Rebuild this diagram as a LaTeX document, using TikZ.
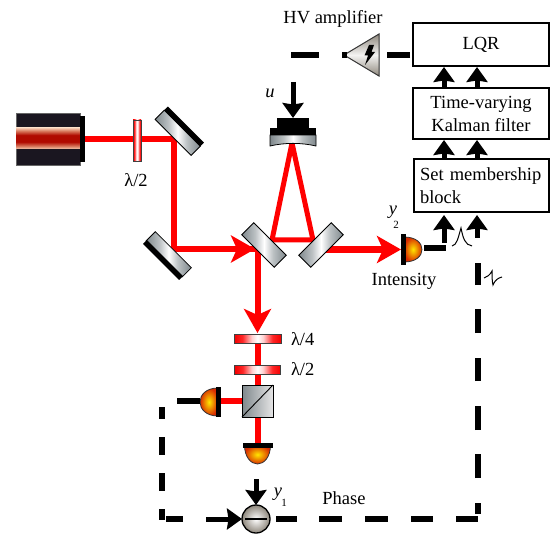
\documentclass[tikz,border=0pt]{standalone}
\usepackage{fontspec}
\setmainfont{Liberation Serif}
\usetikzlibrary{arrows.meta,backgrounds,shapes.geometric}
\definecolor{mirrorgrey}{HTML}{7F888C}
\definecolor{mirrormid}{HTML}{8F989C}
\definecolor{laserbody}{HTML}{1A1620}
\definecolor{ampgrey}{HTML}{8E877C}
\definecolor{bandpink}{HTML}{F4C8B0}
\definecolor{bandrose}{HTML}{D8785C}
\definecolor{banddark}{HTML}{B00A00}
\pgfdeclarehorizontalshading{plateshade}{100bp}{color(0bp)=(red!95!black); color(25bp)=(red!95!black); color(34bp)=(red!85!white); color(44bp)=(red!18!white); color(50bp)=(white); color(56bp)=(red!18!white); color(66bp)=(red!85!white); color(75bp)=(red!95!black); color(100bp)=(red!95!black)}
\pgfdeclareverticalshading{bandshade}{100bp}{color(0bp)=(bandpink); color(25bp)=(bandpink); color(32bp)=(bandrose); color(42bp)=(banddark); color(50bp)=(banddark); color(58bp)=(banddark); color(68bp)=(bandrose); color(75bp)=(bandpink); color(100bp)=(bandpink)}
\pgfdeclarehorizontalshading{glassshade}{100bp}{color(0bp)=(mirrorgrey); color(25bp)=(mirrorgrey); color(40bp)=(mirrormid!60!white); color(50bp)=(white); color(60bp)=(mirrormid!60!white); color(75bp)=(mirrorgrey); color(100bp)=(mirrorgrey)}
\tikzset{
  txt/.style={inner sep=0pt,outer sep=0pt,font=\fontsize{18.5}{23}\selectfont},
  subtxt/.style={inner sep=0pt,outer sep=0pt,font=\fontsize{11}{12}\selectfont},
  ctrlbox/.style={draw=black,line width=1.7pt,fill=white,inner sep=0pt,outer sep=0pt,align=center,txt},
  solidpart/.style={fill=black,inner sep=0pt,outer sep=0pt},
  glass/.style={draw=black,line width=0.8pt,inner sep=0pt,outer sep=0pt,shading=glassshade},
  plate/.style={draw=black!75,line width=0.9pt,inner sep=0pt,outer sep=0pt,shading=plateshade},
  dome/.style={draw=black!80,line width=0.8pt,inner color=yellow!80!orange,outer color=red!60!orange!85!black},
  beam/.style={draw=red,line width=6pt},
  beamarrow/.style={beam,-{Stealth[length=24pt,width=27pt,inset=6pt]}},
  cable/.style={draw=black,line width=6pt},
  sigarrow/.style={draw=black,line width=5pt,-{Stealth[length=15pt,width=21pt,inset=1.5pt]}},
  pulse/.style={draw=black,line width=1pt},
}
\begin{document}
\begin{tikzpicture}[x=1pt,y=-1pt]
\useasboundingbox (0,0) rectangle (553,534);

% control boxes
\node[ctrlbox,minimum width=136pt,minimum height=43pt] (lqr) at (481,44.5) {\raisebox{-2pt}{LQR}};
\node[ctrlbox,minimum width=136pt,minimum height=51pt] (kalman) at (481,113.5) {\raisebox{-2pt}{Time-varying}\\\raisebox{-2pt}{Kalman filter}};
\node[ctrlbox,minimum width=135pt,minimum height=53pt,text width=123pt,align=left] (setblock) at (481.5,185.5) {Set membership\\block};

% laser
\node[draw=black!60,line width=0.5pt,fill=laserbody,inner sep=0pt,outer sep=0pt,minimum width=64pt,minimum height=52pt] (laser) at (48,139) {};
\node[inner sep=0pt,outer sep=0pt,minimum width=64pt,minimum height=21pt,shading=bandshade] (laserband) at (48,138.5) {};
\node[solidpart,minimum width=5pt,minimum height=46pt] (lasercap) at (82.5,139) {};

% first half-wave plate
\node[plate,minimum width=41pt,minimum height=8pt,rotate=90] (plateA) at (137,140.5) {};
\node[txt] (labelA) at (136,180) {λ/2};

% steering mirrors
\node[glass,minimum width=51pt,minimum height=13pt,rotate=-45] (mirrorA) at (177.7,132.8) {};
\node[solidpart,minimum width=51pt,minimum height=5.5pt,rotate=-45] (mirrorAback) at (184.0,126.5) {};
\node[glass,minimum width=51pt,minimum height=13pt,rotate=-45] (mirrorB) at (168.7,254.3) {};
\node[solidpart,minimum width=51pt,minimum height=5.5pt,rotate=-45] (mirrorBback) at (163.0,260.0) {};

% cavity mirrors
\node[glass,minimum width=46pt,minimum height=17pt,rotate=-45] (cavA) at (264,245) {};
\node[glass,minimum width=46pt,minimum height=17pt,rotate=45] (cavB) at (321,245) {};
\path[draw=black,line width=0.8pt,shading=glassshade] (270,135) -- (316,135) -- (316,146) .. controls (301,142.5) and (285,142.5) .. (270,146) -- cycle;
\node[solidpart,minimum width=46pt,minimum height=7pt] (piezoB) at (293,132) {};
\node[solidpart,minimum width=32pt,minimum height=11pt] (piezoA) at (293,123.5) {};
\coordinate (cavTop) at (292,143);
\coordinate (cavL) at (272,240);
\coordinate (cavR) at (313,240);
\coordinate (cavOut) at (321,249.5);

% HV amplifier
\path[draw=black!80,line width=1pt,top color=ampgrey,bottom color=ampgrey,middle color=white!90!ampgrey] (344,55) -- (379,34) -- (379,76) -- cycle;
\fill[black] (369,45) -- (374,45) -- (371.5,52) -- (375,52) -- (365,65) -- (368,55.5) -- (364.5,55.5) -- cycle;
\coordinate (ampOut) at (347,55);
\node[txt] (labelHV) at (333,19) {HV amplifier};

% intensity detector
\path[dome] (404,237) .. controls (416,237) and (422,243) .. (422,249.5) .. controls (422,256) and (416,262) .. (404,262) -- cycle;
\node[solidpart,minimum width=5pt,minimum height=31pt] (detIbar) at (403.5,249.5) {};
\node[txt] (labelI) at (404,281) {Intensity};
\node[txt,font=\fontsize{18.5}{23}\selectfont\itshape] (labelY2) at (393,212) {y};
\node[subtxt] (labelY2s) at (396,225) {2};

% lower optics
\node[plate,minimum width=47pt,minimum height=9pt] (plateB) at (257.5,338.5) {};
\node[txt,anchor=west] (labelB) at (291,339) {λ/4};
\node[plate,minimum width=46pt,minimum height=9pt] (plateC) at (257.5,369.5) {};
\node[txt,anchor=west] (labelC) at (291,369) {λ/2};
\node[draw=black,line width=0.9pt,inner sep=0pt,outer sep=0pt,minimum width=31pt,minimum height=32pt,left color=mirrorgrey,right color=gray!20] (cube) at (257.5,401) {};
\draw[black,line width=0.9pt] (cube.south west) -- (cube.north east);

% split detectors
\path[dome] (218,388) .. controls (206,388) and (200,395) .. (200,402) .. controls (200,409) and (206,416) .. (218,416) -- cycle;
\node[solidpart,minimum width=5pt,minimum height=30pt] (detAbar) at (218.5,402) {};
\path[dome] (244.5,445) .. controls (244.5,457) and (251,464) .. (257.5,464) .. controls (264,464) and (270.5,457) .. (270.5,445) -- cycle;
\node[solidpart,minimum width=30pt,minimum height=5pt] (detBbar) at (257.5,445) {};

% difference junction
\node[circle,draw=black,line width=1.3pt,inner sep=0pt,outer sep=0pt,minimum size=28pt,inner color=white,outer color=ampgrey] (diff) at (256,519) {};
\draw[black,line width=1.2pt] (245,519) -- (267,519);
\node[txt,font=\fontsize{18.5}{23}\selectfont\itshape] (labelY1) at (278,494) {y};
\node[subtxt] (labelY1s) at (284,503) {1};
\node[txt] (labelPhase) at (344,498) {Phase};

% u label
\node[txt,font=\fontsize{18.5}{23}\selectfont\itshape] (labelU) at (270,93) {u};

% connection points
\coordinate (hitA) at (174,139);
\coordinate (hitB) at (174,249);
\coordinate (hitC) at (257.5,249);
\coordinate (loopTop) at (162,407);
\coordinate (loopCorner) at (162,520);
\coordinate (rightCorner) at (478,519);
\coordinate (rightTop) at (478,263);
\coordinate (ampCableEnd) at (291,55);
\coordinate (uStart) at (293,82);
\coordinate (detAout) at (177,401);
\coordinate (detIout) at (446,248);

% optical paths underneath
\begin{pgfonlayer}{background}
\fill[white] (0,0) rectangle (553,534);
\draw[beam] (lasercap.east) -- (hitA) -- (hitB) -- (hitC);
\draw[beamarrow] (hitB) -- (255,249);
\draw[beamarrow] (hitC) -- (257.5,333);
\draw[beam] (plateB.south) -- (plateC.north);
\draw[beam] (plateC.south) -- (cube.north);
\draw[beam] (cube.south) -- (detBbar.north);
\draw[beam] (cube.west) -- (cube.west -| detAbar.east);
\draw[beam,line width=5pt,line join=miter] (cavL) -- (cavTop) -- (cavR) -- cycle;
\draw[beamarrow] (cavOut) -- (cavOut -| detIbar.west);
\end{pgfonlayer}

% signal arrows
\draw[sigarrow] (kalman.north -| 444,0) -- (444,67);
\draw[sigarrow] (kalman.north -| 477,0) -- (477,67);
\draw[sigarrow] (setblock.north -| 444,0) -- (444,140);
\draw[sigarrow] (setblock.north -| 477,0) -- (477,140);
\draw[sigarrow] (444,243) -- (444,215);
\draw[sigarrow] (477,238) -- (477,215);
\draw[sigarrow] (uStart) -- (piezoA.north);
\draw[sigarrow] (256,479) -- (diff.north);
\draw[sigarrow] (206,519) -- (diff.west);

% cables
\draw[cable] (lqr.west |- 0,55) ++(-3,0) -- (387,55);
\draw[cable] (ampOut) -- (342,55);
\draw[cable] (ampCableEnd) -- (319,55);
\draw[cable] (424,248) -- (detIout);
\draw[cable] (200,401) -- (detAout);
\draw[cable,dash pattern=on 12pt off 18pt on 18pt off 18pt on 18pt off 18pt on 12pt] (loopTop) -- (loopCorner);
\draw[cable] (166,519) -- (183,519);
\draw[cable,dash pattern=on 21pt off 22pt on 23pt off 23pt on 23pt off 23pt on 22pt off 23pt on 23pt] (276,519) -- (rightCorner);
\draw[cable,dash pattern=on 0pt off 5pt on 11pt off 25pt on 24pt off 24pt on 24pt off 25pt on 23pt off 25pt on 24pt off 24pt on 22pt] (rightCorner) -- (rightTop);

% signal shape sketches
\draw[pulse] (452,246) .. controls (457,245) and (458,238) .. (461,228) .. controls (463,238) and (465,245) .. (472,246);
\draw[pulse] (484,278) .. controls (487,277) and (490,275) .. (492,271) .. controls (492,276) and (492,281) .. (493,285) .. controls (495,280) and (498,278) .. (502,277);
\end{tikzpicture}
\end{document}
